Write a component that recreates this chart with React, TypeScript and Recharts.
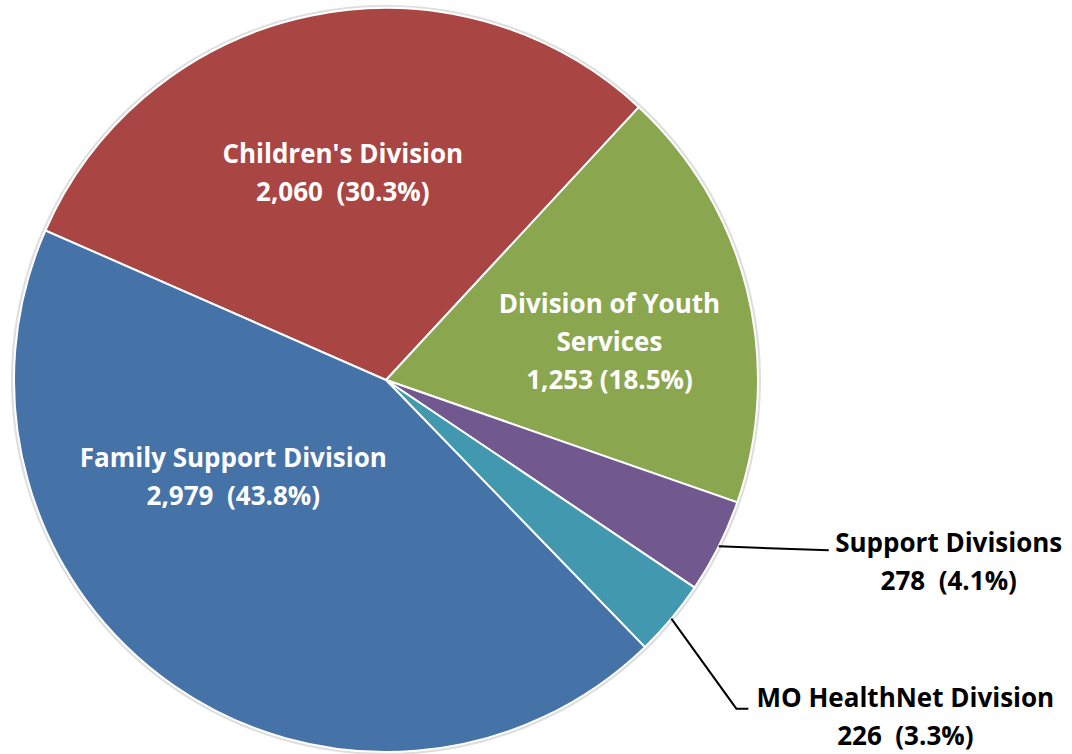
import React from "react";
import { Pie, PieChart } from "recharts";

const divisions = ["Children's Division", "Division of Youth Services", "Support Divisions", "MO HealthNet Division", "Family Support Division"];
const staff = [2060, 1253, 278, 226, 2979];
const colors = ["#A94644", "#8AA64F", "#71588F", "#4198AF", "#4572A7"];

const data = divisions.map((name, i) => ({ name, value: staff[i], fill: colors[i] }));
const shadowData = [{ name: "shadow", value: 1 }];

const RAD = Math.PI / 180;

// label placement relative to the pie: angle shift from mid angle, radius factor
const layout = [
  { inside: true, da: 0, rf: 0.571, lines: ["Children's Division", "2,060  (30.3%)"] },
  { inside: true, da: -4, rf: 0.61, lines: ["Division of Youth", "Services", "1,253 (18.5%)"] },
  { inside: false, elbow: [110, 4], text: [230, 15], lines: ["Support Divisions", "278  (4.1%)"] },
  { inside: false, elbow: [65, 90], end: 12, text: [234, 97], lines: ["MO HealthNet Division", "226  (3.3%)"] },
  { inside: true, da: -23, rf: 0.485, lines: ["Family Support Division", "2,979  (43.8%)"] },
];

const LINE_H = 38;
const FONT = "'Open Sans'";
const FONT_SIZE = 26;

function renderLabel(props: any) {
  const { cx, cy, midAngle, outerRadius, index } = props;
  const cfg: any = layout[index];
  if (cfg.inside) {
    const a = (midAngle + cfg.da) * RAD;
    const x = cx + outerRadius * cfg.rf * Math.cos(a);
    const y = cy - outerRadius * cfg.rf * Math.sin(a);
    const y0 = y - ((cfg.lines.length - 1) * LINE_H) / 2;
    return (
      <g key={`l${index}`}>
        {cfg.lines.map((t: string, k: number) => (
          <text key={k} x={x} y={y0 + k * LINE_H} textAnchor="middle" dominantBaseline="central"
            fill="#ffffff" fontSize={FONT_SIZE} fontWeight="bold" fontFamily={FONT} style={{ whiteSpace: "pre" }}>
            {t}
          </text>
        ))}
      </g>
    );
  }
  const a = midAngle * RAD;
  const sx = cx + outerRadius * Math.cos(a);
  const sy = cy - outerRadius * Math.sin(a);
  const ex = sx + cfg.elbow[0];
  const ey = sy + cfg.elbow[1];
  const pts = cfg.end ? `${sx},${sy} ${ex},${ey} ${ex + cfg.end},${ey}` : `${sx},${sy} ${ex},${ey}`;
  const tx = sx + cfg.text[0];
  const ty = sy + cfg.text[1];
  const y0 = ty - ((cfg.lines.length - 1) * LINE_H) / 2;
  return (
    <g key={`l${index}`}>
      <polyline points={pts} fill="none" stroke="#000000" strokeWidth={2} />
      {cfg.lines.map((t: string, k: number) => (
        <text key={k} x={tx} y={y0 + k * LINE_H} textAnchor="middle" dominantBaseline="central"
          fill="#000000" fontSize={FONT_SIZE} fontWeight="bold" fontFamily={FONT} style={{ whiteSpace: "pre" }}>
          {t}
        </text>
      ))}
    </g>
  );
}

export default function App() {
  return (
    <div style={{ position: "fixed", left: 0, top: 0, width: 1072, height: 754, background: "#ffffff" }}>
      <PieChart width={1072} height={754} margin={{ top: 0, right: 0, bottom: 0, left: 0 }}>
        <Pie data={shadowData} dataKey="value" cx={386} cy={380} outerRadius={375} fill="#dedede"
          stroke="none" isAnimationActive={false} />
        <Pie
          data={data}
          dataKey="value"
          nameKey="name"
          cx={386}
          cy={380}
          outerRadius={372}
          startAngle={156.3}
          endAngle={-203.7}
          stroke="#ffffff"
          strokeWidth={2}
          label={renderLabel}
          labelLine={false}
          isAnimationActive={false}
        />
      </PieChart>
    </div>
  );
}
